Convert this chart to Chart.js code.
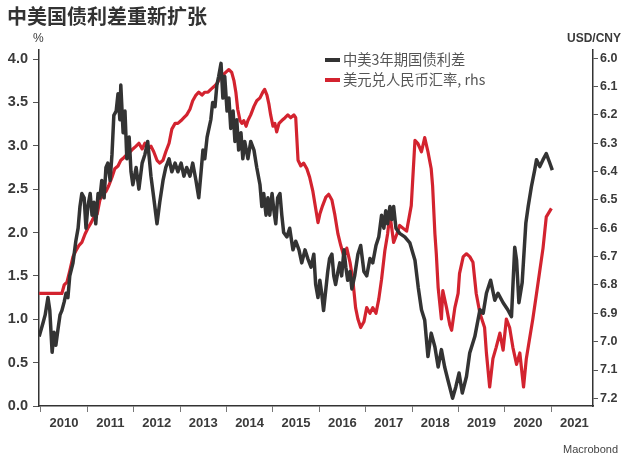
<!DOCTYPE html>
<html>
<head>
<meta charset="utf-8">
<script src="https://cdn.jsdelivr.net/npm/chart.js@4.4.1/dist/chart.umd.min.js"></script>
<style>
  html, body { margin: 0; padding: 0; background: #fff; }
  #wrap { position: relative; width: 632px; height: 459px; color: #3a3a3a; font-family: "Liberation Sans", Arial, sans-serif; }
  #c { position: absolute; left: 0; top: 0; }
  .txt { position: absolute; line-height: 1; white-space: nowrap; }
  #title { left: 7px; top: 6px; font-size: 20px; font-weight: bold; font-family: "Noto Sans CJK SC", sans-serif; color: #333; }
  #pct { left: 33px; top: 32px; font-size: 12px; }
  #usd { left: 567px; top: 32px; font-size: 12px; font-weight: bold; }
  #src { left: 563px; top: 444px; font-size: 11px; color: #444; }
  .leg { position: absolute; left: 325px; height: 20px; font-size: 14.3px; line-height: 20px; font-family: "Noto Sans CJK SC", sans-serif; color: #555; white-space: nowrap; }
  .leg i { display: inline-block; width: 15px; height: 4px; vertical-align: middle; margin-right: 3px; position: relative; top: -1px; }
</style>
</head>
<body>
<div id="wrap">
  <canvas id="c" width="632" height="459"></canvas>
  <div id="title" class="txt">中美国债利差重新扩张</div>
  <div id="pct" class="txt">%</div>
  <div id="usd" class="txt">USD/CNY</div>
  <div id="src" class="txt">Macrobond</div>
  <div class="leg" style="top:49px"><i style="background:#333333"></i>中美3年期国债利差</div>
  <div class="leg" style="top:69px"><i style="background:#d3232f"></i>美元兑人民币汇率, rhs</div>
</div>
<script>
// 中美3年期国债利差, %  (左轴)
const spreadDates = [
  2009.96, 2010.04, 2010.09, 2010.15, 2010.19, 2010.24, 2010.28, 2010.32, 2010.37, 2010.41, 2010.45, 2010.50, 2010.54, 2010.58, 2010.62, 2010.69, 2010.75, 2010.80, 2010.84, 2010.88, 2010.93, 2010.97,
  2011.01, 2011.06, 2011.10, 2011.14, 2011.18, 2011.23, 2011.27, 2011.31, 2011.36, 2011.40, 2011.44, 2011.49, 2011.53, 2011.57, 2011.62, 2011.66, 2011.70, 2011.72, 2011.77, 2011.81, 2011.85, 2011.90, 2011.94, 2011.98,
  2012.05, 2012.11, 2012.18, 2012.24, 2012.30, 2012.37, 2012.43, 2012.50, 2012.56, 2012.63, 2012.69, 2012.76, 2012.82, 2012.89, 2012.95,
  2013.02, 2013.08, 2013.14, 2013.21, 2013.27, 2013.34, 2013.40, 2013.45, 2013.49, 2013.53, 2013.58, 2013.62, 2013.66, 2013.70, 2013.75, 2013.79, 2013.83, 2013.88, 2013.92, 2013.96,
  2014.01, 2014.05, 2014.09, 2014.14, 2014.18, 2014.22, 2014.26, 2014.31, 2014.35, 2014.39, 2014.46, 2014.52, 2014.59, 2014.65, 2014.72, 2014.76, 2014.80, 2014.85, 2014.89, 2014.93, 2014.98,
  2015.02, 2015.06, 2015.10, 2015.15, 2015.19, 2015.23, 2015.30, 2015.36, 2015.43, 2015.49, 2015.56, 2015.62, 2015.69, 2015.75, 2015.82, 2015.88, 2015.92, 2015.97,
  2016.01, 2016.05, 2016.09, 2016.14, 2016.18, 2016.22, 2016.27, 2016.31, 2016.35, 2016.40, 2016.44, 2016.48, 2016.53, 2016.57, 2016.61, 2016.66, 2016.70, 2016.76, 2016.83, 2016.89, 2016.96,
  2017.02, 2017.09, 2017.15, 2017.22, 2017.28, 2017.34, 2017.39, 2017.43, 2017.47, 2017.52, 2017.56, 2017.60, 2017.65, 2017.73, 2017.84, 2017.95,
  2018.06, 2018.13, 2018.20, 2018.27, 2018.34, 2018.41, 2018.49, 2018.56, 2018.63, 2018.70, 2018.77, 2018.87, 2018.94,
  2019.01, 2019.08, 2019.17, 2019.24, 2019.35, 2019.46, 2019.53, 2019.60, 2019.69, 2019.78, 2019.85, 2019.96,
  2020.06, 2020.14, 2020.21, 2020.25, 2020.30, 2020.37, 2020.45, 2020.50, 2020.57, 2020.64, 2020.68, 2020.75, 2020.82, 2020.89, 2020.96, 2021.02
];
const spreadValues = [
  0.80, 0.95, 1.05, 1.25, 1.10, 0.62, 0.85, 0.70, 0.90, 1.05, 1.10, 1.20, 1.30, 1.25, 1.50, 1.65, 1.90, 2.05, 2.30, 2.45, 2.40, 2.05,
  2.30, 2.45, 2.20, 2.35, 2.10, 2.45, 2.40, 2.60, 2.40, 2.75, 2.80, 2.60, 2.90, 3.35, 3.40, 3.60, 3.30, 3.70, 3.15, 3.40, 2.85, 3.10, 2.70, 2.55,
  2.75, 2.50, 2.80, 2.90, 3.05, 2.65, 2.40, 2.10, 2.35, 2.60, 2.75, 2.85, 2.70, 2.80, 2.70,
  2.80, 2.65, 2.75, 2.65, 2.80, 2.60, 2.40, 2.70, 2.95, 2.85, 3.10, 3.20, 3.30, 3.50, 3.45, 3.70, 3.80, 3.95, 3.55, 3.80,
  3.40, 3.55, 3.20, 3.40, 3.05, 3.30, 2.95, 3.15, 2.85, 3.05, 2.85, 3.05, 2.95, 2.75, 2.55, 2.30, 2.45, 2.20, 2.40, 2.20, 2.45,
  2.25, 2.10, 2.40, 2.45, 2.20, 2.00, 1.95, 2.05, 1.80, 1.90, 1.80, 1.65, 1.80, 1.70, 1.60, 1.75, 1.40, 1.25,
  1.45, 1.30, 1.10, 1.35, 1.55, 1.70, 1.75, 1.50, 1.40, 1.55, 1.65, 1.50, 1.80, 1.60, 1.45, 1.55, 1.35, 1.50, 1.75, 1.85, 1.55,
  1.50, 1.70, 1.65, 1.85, 1.95, 2.20, 2.05, 2.25, 2.10, 2.30, 2.15, 2.30, 2.05, 1.99, 1.95, 1.88,
  1.68, 1.37, 1.11, 0.99, 0.57, 0.84, 0.68, 0.45, 0.65, 0.45, 0.30, 0.09, 0.22,
  0.38, 0.15, 0.34, 0.61, 0.80, 1.11, 1.07, 1.30, 1.45, 1.22, 1.30, 1.19,
  1.11, 1.03, 1.83, 1.68, 1.19, 1.42, 2.11, 2.30, 2.53, 2.72, 2.84, 2.76, 2.84, 2.91, 2.81, 2.72
];

// 美元兑人民币汇率 (右轴, 反向)
const fxDates = [
  2009.96, 2010.45, 2010.50, 2010.56, 2010.62, 2010.69, 2010.75, 2010.82, 2010.88, 2010.95,
  2011.01, 2011.08, 2011.14, 2011.21, 2011.27, 2011.34, 2011.40, 2011.46, 2011.53, 2011.59, 2011.66, 2011.72, 2011.79, 2011.85, 2011.92, 2011.98,
  2012.05, 2012.11, 2012.18, 2012.24, 2012.30, 2012.37, 2012.43, 2012.50, 2012.56, 2012.63, 2012.69, 2012.76, 2012.82, 2012.89, 2012.95,
  2013.02, 2013.08, 2013.14, 2013.21, 2013.27, 2013.34, 2013.40, 2013.47, 2013.53, 2013.60, 2013.66, 2013.73, 2013.79, 2013.86, 2013.92, 2013.98,
  2014.05, 2014.11, 2014.16, 2014.20, 2014.24, 2014.29, 2014.33, 2014.37, 2014.42, 2014.46, 2014.52, 2014.59, 2014.65, 2014.72, 2014.78, 2014.82, 2014.87, 2014.91, 2014.95,
  2015.00, 2015.04, 2015.08, 2015.13, 2015.19, 2015.26, 2015.32, 2015.38, 2015.45, 2015.49, 2015.54, 2015.60, 2015.66, 2015.73, 2015.79, 2015.86, 2015.92, 2015.97,
  2016.01, 2016.07, 2016.14, 2016.20, 2016.27, 2016.33, 2016.40, 2016.46, 2016.53, 2016.59, 2016.66, 2016.72, 2016.78, 2016.83, 2016.89, 2016.96,
  2017.02, 2017.09, 2017.15, 2017.22, 2017.28, 2017.34, 2017.41, 2017.47, 2017.52, 2017.56, 2017.60, 2017.67, 2017.73, 2017.88, 2017.98,
  2018.06, 2018.12, 2018.20, 2018.27, 2018.34, 2018.41, 2018.44, 2018.49, 2018.52, 2018.56, 2018.63, 2018.66, 2018.74, 2018.81, 2018.85, 2018.92, 2018.99,
  2019.02, 2019.10, 2019.17, 2019.24, 2019.31, 2019.38, 2019.46, 2019.56, 2019.60, 2019.67, 2019.74, 2019.81, 2019.89, 2019.96,
  2020.03, 2020.10, 2020.17, 2020.25, 2020.32, 2020.40, 2020.46, 2020.53, 2020.60, 2020.68, 2020.75, 2020.82, 2020.89, 2021.00
];
const fxValues = [
  6.83, 6.83, 6.80, 6.79, 6.75, 6.70, 6.68, 6.66, 6.65, 6.62,
  6.60, 6.58, 6.56, 6.55, 6.50, 6.48, 6.47, 6.45, 6.42, 6.39, 6.38, 6.36, 6.35, 6.34, 6.33, 6.32,
  6.31, 6.30, 6.32, 6.30, 6.32, 6.31, 6.33, 6.36, 6.37, 6.36, 6.33, 6.30, 6.25, 6.23, 6.23,
  6.22, 6.21, 6.20, 6.18, 6.15, 6.13, 6.12, 6.13, 6.12, 6.12, 6.11, 6.10, 6.09, 6.07, 6.06, 6.05,
  6.04, 6.05, 6.08, 6.12, 6.18, 6.22, 6.23, 6.22, 6.24, 6.22, 6.20, 6.17, 6.15, 6.14, 6.12, 6.11, 6.13, 6.16, 6.20,
  6.24, 6.23, 6.26, 6.23, 6.22, 6.21, 6.20, 6.21, 6.20, 6.21, 6.36, 6.38, 6.37, 6.39, 6.42, 6.47, 6.53, 6.58,
  6.55, 6.52, 6.49, 6.48, 6.50, 6.55, 6.62, 6.66, 6.70, 6.67, 6.72, 6.78, 6.88, 6.92, 6.95, 6.93,
  6.88, 6.90, 6.88, 6.90, 6.85, 6.78, 6.68, 6.62, 6.55, 6.60, 6.65, 6.62, 6.59, 6.61, 6.52,
  6.29, 6.30, 6.33, 6.28, 6.33, 6.39, 6.45, 6.62, 6.69, 6.81, 6.92, 6.82, 6.88, 6.94, 6.96, 6.88, 6.83,
  6.76, 6.70, 6.69, 6.70, 6.72, 6.83, 6.90, 6.95, 7.04, 7.16, 7.06, 7.02, 6.97, 7.03,
  6.92, 6.95, 7.02, 7.08, 7.04, 7.16, 7.06, 6.99, 6.92, 6.83, 6.75, 6.67, 6.56, 6.53
];

const yearTicks = { min: 2009.957, max: 2021.897 };
const leftRange = { min: 0, max: 4.104 };
const rightRange = { min: 5.971, max: 7.227 };

const fontFamily = '"Liberation Sans", Arial, sans-serif';
const axisColor = '#333333';

const ctx = document.getElementById('c').getContext('2d');
new Chart(ctx, {
  type: 'line',
  data: {
    datasets: [
      {
        label: '中美3年期国债利差',
        data: spreadDates.map((d, i) => ({ x: d, y: spreadValues[i] })),
        borderColor: '#333333',
        borderWidth: 3.5,
        pointRadius: 0,
        borderJoinStyle: 'round',
        yAxisID: 'y'
      },
      {
        label: '美元兑人民币汇率, rhs',
        data: fxDates.map((d, i) => ({ x: d, y: fxValues[i] })),
        borderColor: '#d3232f',
        borderWidth: 3.2,
        pointRadius: 0,
        borderJoinStyle: 'round',
        yAxisID: 'y1'
      }
    ]
  },
  options: {
    responsive: false,
    animation: false,
    devicePixelRatio: 1,
    layout: { padding: { top: 50, left: 0, right: 0, bottom: 0 } },
    plugins: { legend: { display: false }, tooltip: { enabled: false } },
    scales: {
      x: {
        type: 'linear',
        min: yearTicks.min,
        max: yearTicks.max,
        afterFit: s => { s.height = 53; },
        grid: { drawOnChartArea: false, drawTicks: true, tickLength: 6, color: '#777' },
        border: { color: axisColor, width: 1.5 },
        ticks: {
          stepSize: 1, includeBounds: false, autoSkip: false, maxRotation: 0,
          labelOffset: 23, padding: 4, color: '#3a3a3a',
          font: { family: fontFamily, size: 13, weight: 'bold' },
          callback: v => String(Math.round(v))
        }
      },
      y: {
        position: 'left',
        min: leftRange.min,
        max: leftRange.max,
        afterFit: s => { s.width = 39; },
        grid: { drawOnChartArea: false, drawTicks: true, tickLength: 6, color: '#555' },
        border: { color: axisColor, width: 1.5 },
        ticks: {
          stepSize: 0.5, includeBounds: false, padding: 5, color: '#3a3a3a',
          font: { family: fontFamily, size: 14.5, weight: 'bold' },
          callback: v => v.toFixed(1)
        }
      },
      y1: {
        position: 'right',
        reverse: true,
        min: rightRange.min,
        max: rightRange.max,
        afterFit: s => { s.width = 39; },
        grid: { drawOnChartArea: false, drawTicks: true, tickLength: 5, color: '#555' },
        border: { color: axisColor, width: 1.5 },
        ticks: {
          stepSize: 0.1, includeBounds: false, padding: 2, color: '#3a3a3a',
          font: { family: fontFamily, size: 12.5, weight: 'bold' },
          callback: v => v.toFixed(1)
        }
      }
    }
  }
});
</script>
</body>
</html>
